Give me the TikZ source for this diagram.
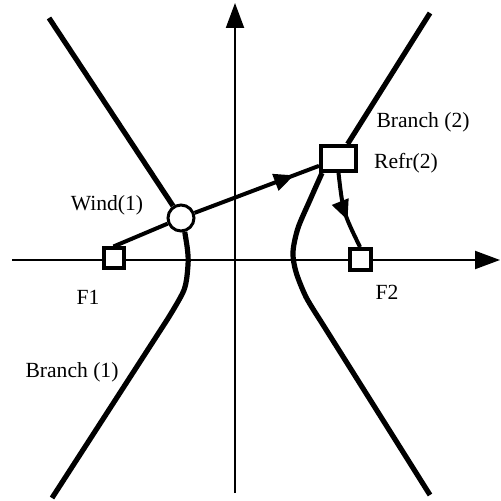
\documentclass[tikz,border=0pt]{standalone}
\usepackage{fontspec}
\setmainfont{Liberation Serif}
\usetikzlibrary{arrows.meta,decorations.markings,calc}
\begin{document}
\begin{tikzpicture}[x=0.5pt,y=-0.5pt,
  axis/.style={line width=1pt,-{Triangle[length=12.5pt,width=9pt]}},
  branch/.style={line width=2.6pt},
  conn/.style={line width=2pt},
  midarrow/.style={postaction={decorate},decoration={markings,mark=at position #1 with {\arrow{Triangle[length=10pt,width=8.5pt]}}}},
  sq/.style={draw,line width=2pt,fill=white,inner sep=0pt},
  ring/.style={draw,circle,line width=1.5pt,fill=white,inner sep=0pt,minimum size=13pt},
  lbl/.style={font=\fontsize{10.8}{13}\selectfont,inner sep=0pt}]
\useasboundingbox (0,0) rectangle (500,501);
% axes
\coordinate (xa) at (12,260); \coordinate (xb) at (500,260);
\coordinate (ya) at (235,493); \coordinate (yb) at (235,3);
\draw[axis] (xa) -- (xb);
\draw[axis] (ya) -- (yb);
% nodes
\node[sq,minimum size=10pt] (f1) at (113.5,258.5) {};
\node[sq,minimum size=10.5pt] (f2) at (360,259.5) {};
\node[sq,minimum width=17.5pt,minimum height=12.5pt] (r2) at (338.5,158.5) {};
\node[ring] (w) at (181,218) {};
% branches
\coordinate (b1top) at (49,18);
\coordinate (b1bot) at (52,498);
\coordinate (b2top) at (430,13);
\coordinate (b2bot) at (430,495);
\coordinate (w1) at (w.-75);
\coordinate (r2s) at ($(r2.south west)+(3,0)$);
\draw[branch] (b1top) -- (w);
\draw[branch] plot[smooth] coordinates {(w1) (187.5,250) (188,265) (184,290) (167,320)} -- (b1bot);
\draw[branch] (b2top) -- (r2);
\draw[branch] plot[smooth] coordinates {(r2s) (310,200) (298,228) (293,252) (296,272) (306,297) (320,320)} -- (b2bot);
% connectors
\draw[conn] (f1.north) -- (w);
\draw[conn,midarrow=0.8] (w) -- (r2);
\draw[conn,midarrow=0.62] (r2.south) .. controls (343,212) .. (f2.north);
% labels
\node[lbl] (lw) at (107,205) {Wind(1)};
\node[lbl] (lb2) at (423,122) {Branch (2)};
\node[lbl] (lr2) at (406,163) {Refr(2)};
\node[lbl] (lf1) at (88,297) {F1};
\node[lbl] (lf2) at (387,292) {F2};
\node[lbl] (lb1) at (72,372) {Branch (1)};
\end{tikzpicture}
\end{document}
